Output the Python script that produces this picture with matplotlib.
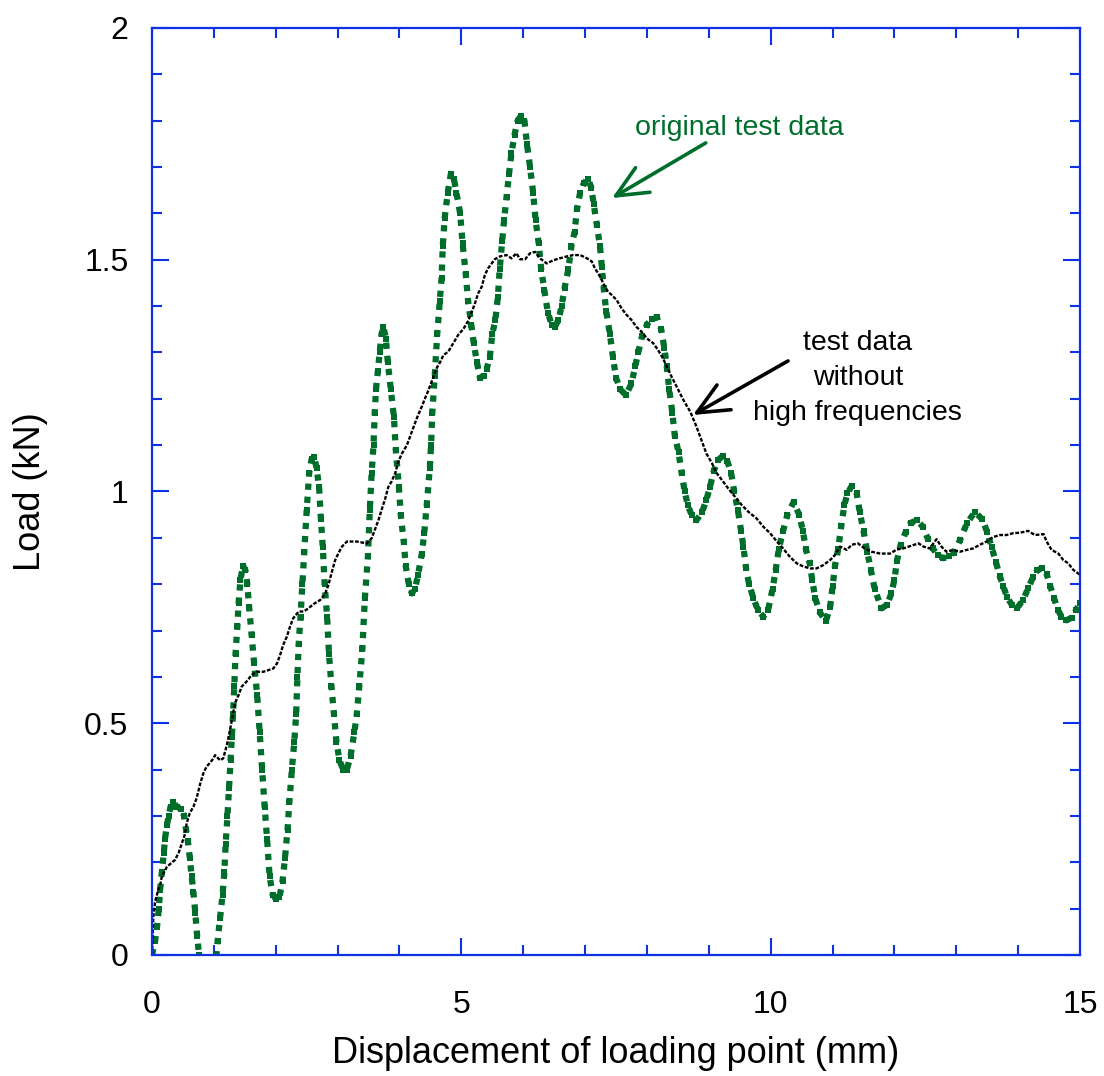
import numpy as np
import matplotlib
matplotlib.use("Agg")
import matplotlib.pyplot as plt
from matplotlib.ticker import MultipleLocator

# original test data (green)
raw_x = [0.00, 0.05, 0.08, 0.11, 0.13, 0.16, 0.19, 0.21, 0.24, 0.27, 0.30, 0.34,
         0.40, 0.47, 0.52, 0.55, 0.58, 0.61, 0.64, 0.67, 0.70, 0.73, 0.76, 0.83,
         0.90, 0.97, 1.03, 1.06, 1.10, 1.14, 1.17, 1.19, 1.22, 1.245, 1.27, 1.29,
         1.31, 1.33, 1.35, 1.38, 1.40, 1.43, 1.47, 1.51, 1.54, 1.57, 1.61, 1.65,
         1.70, 1.74, 1.78, 1.82, 1.86, 1.90, 1.95, 2.01, 2.06, 2.11, 2.15, 2.19,
         2.22, 2.26, 2.30, 2.33, 2.35, 2.37, 2.40, 2.43, 2.46, 2.50, 2.54, 2.58,
         2.62, 2.66, 2.70, 2.73, 2.76, 2.79, 2.83, 2.86, 2.90, 2.94, 2.98, 3.03,
         3.09, 3.15, 3.21, 3.27, 3.31, 3.35, 3.40, 3.44, 3.49, 3.52, 3.55, 3.58,
         3.60, 3.62, 3.65, 3.68, 3.71, 3.74, 3.78, 3.81, 3.86, 3.91, 3.94, 3.99,
         4.02, 4.07, 4.10, 4.15, 4.20, 4.25, 4.30, 4.36, 4.40, 4.44, 4.49, 4.51,
         4.53, 4.57, 4.61, 4.65, 4.68, 4.70, 4.73, 4.78, 4.83, 4.88, 4.92, 4.98,
         5.02, 5.07, 5.11, 5.16, 5.20, 5.25, 5.30, 5.36, 5.41, 5.46, 5.50, 5.55,
         5.59, 5.62, 5.66, 5.69, 5.73, 5.77, 5.81, 5.86, 5.91, 5.96, 6.02, 6.06,
         6.11, 6.16, 6.20, 6.25, 6.29, 6.34, 6.40, 6.46, 6.51, 6.57, 6.62, 6.67,
         6.73, 6.78, 6.83, 6.87, 6.92, 6.98, 7.05, 7.10, 7.14, 7.19, 7.24, 7.27,
         7.30, 7.34, 7.40, 7.45, 7.50, 7.57, 7.66, 7.75, 7.81, 7.86, 7.92, 8.00,
         8.08, 8.16, 8.23, 8.28, 8.32, 8.36, 8.41, 8.45, 8.51, 8.56, 8.61, 8.66,
         8.72, 8.80, 8.89, 8.96, 9.02, 9.08, 9.15, 9.23, 9.30, 9.36, 9.41, 9.47,
         9.52, 9.56, 9.60, 9.65, 9.72, 9.79, 9.88, 9.96, 10.03, 10.08, 10.13,
         10.20, 10.27, 10.37, 10.46, 10.52, 10.57, 10.63, 10.67, 10.72, 10.79,
         10.89, 10.96, 11.00, 11.04, 11.09, 11.14, 11.19, 11.24, 11.31, 11.39,
         11.44, 11.50, 11.56, 11.62, 11.68, 11.79, 11.88, 11.95, 12.00, 12.04,
         12.10, 12.18, 12.26, 12.36, 12.46, 12.54, 12.62, 12.70, 12.79, 12.88,
         12.96, 13.06, 13.17, 13.30, 13.42, 13.50, 13.57, 13.64, 13.70, 13.76,
         13.82, 13.90, 13.98, 14.08, 14.16, 14.24, 14.31, 14.38, 14.46, 14.52,
         14.58, 14.64, 14.70, 14.78, 14.87, 14.94, 15.00]
raw_y = [0.00, 0.03, 0.06, 0.10, 0.14, 0.18, 0.22, 0.25, 0.28, 0.30, 0.32, 0.33,
         0.32, 0.315, 0.30, 0.27, 0.245, 0.21, 0.17, 0.135, 0.09, 0.04, 0.00, -0.10,
         -0.13, -0.10, -0.02, 0.03, 0.08, 0.13, 0.18, 0.24, 0.30, 0.36, 0.42, 0.47,
         0.52, 0.58, 0.65, 0.71, 0.76, 0.81, 0.84, 0.83, 0.80, 0.75, 0.69, 0.63,
         0.56, 0.48, 0.40, 0.32, 0.25, 0.17, 0.13, 0.12, 0.125, 0.16, 0.21, 0.27,
         0.33, 0.40, 0.46, 0.52, 0.60, 0.67, 0.73, 0.80, 0.87, 0.96, 1.04, 1.07,
         1.075, 1.05, 1.01, 0.94, 0.88, 0.80, 0.73, 0.65, 0.58, 0.52, 0.46, 0.42,
         0.40, 0.40, 0.43, 0.48, 0.52, 0.58, 0.66, 0.77, 0.86, 0.96, 1.04, 1.10,
         1.17, 1.22, 1.26, 1.30, 1.34, 1.355, 1.33, 1.28, 1.22, 1.16, 1.09, 1.01,
         0.95, 0.89, 0.84, 0.80, 0.78, 0.79, 0.82, 0.865, 0.91, 0.97, 1.05, 1.10,
         1.17, 1.25, 1.34, 1.41, 1.46, 1.53, 1.59, 1.645, 1.685, 1.675, 1.645, 1.60,
         1.535, 1.47, 1.41, 1.36, 1.32, 1.28, 1.245, 1.25, 1.265, 1.29, 1.34, 1.37,
         1.42, 1.48, 1.54, 1.585, 1.635, 1.685, 1.73, 1.77, 1.80, 1.81, 1.80, 1.75,
         1.70, 1.645, 1.585, 1.535, 1.48, 1.435, 1.385, 1.36, 1.355, 1.37, 1.40, 1.44,
         1.48, 1.53, 1.56, 1.61, 1.645, 1.665, 1.675, 1.655, 1.62, 1.575, 1.53, 1.485,
         1.44, 1.39, 1.34, 1.29, 1.245, 1.22, 1.208, 1.233, 1.27, 1.30, 1.335, 1.36,
         1.373, 1.376, 1.35, 1.31, 1.27, 1.22, 1.17, 1.12, 1.085, 1.04, 1.00, 0.97,
         0.95, 0.938, 0.955, 0.982, 1.01, 1.045, 1.068, 1.077, 1.065, 1.04, 1.00, 0.96,
         0.915, 0.88, 0.835, 0.80, 0.77, 0.745, 0.73, 0.745, 0.79, 0.83, 0.875,
         0.915, 0.95, 0.977, 0.95, 0.915, 0.875, 0.845, 0.81, 0.77, 0.74,
         0.72, 0.75, 0.795, 0.84, 0.875, 0.925, 0.97, 0.996, 1.012, 0.996,
         0.955, 0.915, 0.87, 0.83, 0.79, 0.748, 0.755, 0.78, 0.81, 0.85,
         0.885, 0.912, 0.932, 0.938, 0.924, 0.898, 0.877, 0.862, 0.856, 0.86,
         0.868, 0.895, 0.931, 0.956, 0.94, 0.912, 0.88, 0.848, 0.818, 0.795,
         0.772, 0.755, 0.748, 0.766, 0.791, 0.815, 0.83, 0.834, 0.822, 0.795,
         0.77, 0.745, 0.73, 0.722, 0.728, 0.745, 0.76]

# test data without high frequencies (black)
filt_x = [0.00, 0.02, 0.05, 0.10, 0.13, 0.16, 0.24, 0.37, 0.43, 0.48, 0.53, 0.56,
          0.61, 0.67, 0.72, 0.78, 0.83, 0.88, 0.97, 1.02, 1.10, 1.15, 1.21, 1.26,
          1.30, 1.34, 1.40, 1.45, 1.53, 1.61, 1.69, 1.80, 1.96, 2.02, 2.07, 2.12,
          2.18, 2.23, 2.28, 2.37, 2.45, 2.53, 2.61, 2.72, 2.80, 2.85, 2.90, 2.96,
          3.01, 3.07, 3.15, 3.31, 3.47, 3.55, 3.60, 3.66, 3.71, 3.77, 3.82, 3.87,
          3.93, 3.98, 4.04, 4.12, 4.17, 4.22, 4.28, 4.36, 4.41, 4.47, 4.52, 4.60,
          4.66, 4.71, 4.79, 4.87, 4.95, 5.03, 5.11, 5.17, 5.22, 5.27, 5.33, 5.38,
          5.43, 5.49, 5.54, 5.62, 5.73, 5.81, 5.89, 5.95, 6.03, 6.11, 6.19, 6.27,
          6.38, 6.49, 6.59, 6.70, 6.81, 6.92, 7.03, 7.11, 7.16, 7.21, 7.27, 7.32,
          7.37, 7.43, 7.51, 7.59, 7.67, 7.75, 7.83, 7.91, 8.00, 8.10, 8.18, 8.26,
          8.37, 8.48, 8.59, 8.70, 8.80, 8.88, 8.96, 9.05, 9.13, 9.21, 9.31, 9.42,
          9.53, 9.64, 9.77, 9.88, 9.99, 10.10, 10.20, 10.31, 10.42, 10.53, 10.64,
          10.74, 10.85, 10.96, 11.04, 11.12, 11.23, 11.31, 11.41, 11.52, 11.63,
          11.77, 11.93, 12.04, 12.14, 12.25, 12.39, 12.47, 12.57, 12.68, 12.76,
          12.84, 12.95, 13.06, 13.17, 13.27, 13.38, 13.49, 13.60, 13.71, 13.81,
          13.92, 14.03, 14.16, 14.27, 14.41, 14.46, 14.54, 14.65, 14.73, 14.81,
          14.89, 15.00]
filt_y = [0.00, 0.08, 0.115, 0.14, 0.15, 0.17, 0.19, 0.205, 0.22, 0.24, 0.26, 0.284,
          0.306, 0.32, 0.338, 0.37, 0.392, 0.406, 0.42, 0.431, 0.42, 0.424, 0.453, 0.485,
          0.514, 0.543, 0.561, 0.579, 0.59, 0.604, 0.611, 0.611, 0.618, 0.629, 0.647, 0.669,
          0.687, 0.708, 0.726, 0.741, 0.741, 0.748, 0.757, 0.766, 0.78, 0.798, 0.823, 0.852,
          0.866, 0.881, 0.892, 0.892, 0.888, 0.899, 0.917, 0.938, 0.96, 0.985, 1.01, 1.021,
          1.039, 1.064, 1.082, 1.10, 1.118, 1.136, 1.158, 1.183, 1.20, 1.219, 1.237, 1.266,
          1.28, 1.294, 1.302, 1.32, 1.338, 1.35, 1.368, 1.388, 1.406, 1.427, 1.442, 1.467,
          1.481, 1.492, 1.501, 1.507, 1.51, 1.503, 1.514, 1.501, 1.501, 1.514, 1.517, 1.503,
          1.492, 1.499, 1.503, 1.507, 1.51, 1.51, 1.503, 1.496, 1.481, 1.471, 1.456, 1.442,
          1.431, 1.424, 1.413, 1.395, 1.381, 1.37, 1.355, 1.345, 1.33, 1.32, 1.305, 1.287,
          1.255, 1.226, 1.197, 1.172, 1.14, 1.111, 1.082, 1.061, 1.039, 1.025, 1.007, 0.989,
          0.971, 0.956, 0.942, 0.924, 0.91, 0.892, 0.877, 0.859, 0.845, 0.838, 0.834,
          0.834, 0.841, 0.852, 0.863, 0.881, 0.874, 0.885, 0.888, 0.877, 0.87,
          0.866, 0.866, 0.875, 0.877, 0.882, 0.888, 0.881, 0.877, 0.897, 0.881,
          0.87, 0.874, 0.87, 0.874, 0.877, 0.885, 0.892, 0.902, 0.906, 0.906,
          0.91, 0.911, 0.915, 0.906, 0.908, 0.892, 0.874, 0.866, 0.852, 0.845,
          0.831, 0.82]

GREEN = "#006e2b"
BLUE = "#1030e6"

plt.rcParams["font.family"] = ["Liberation Sans", "DejaVu Sans"]

fig = plt.figure(figsize=(11.04, 10.76), dpi=100)
ax = fig.add_axes([0.1377, 0.1125, 0.8406, 0.8615])

ax.plot(raw_x, raw_y, color=GREEN, lw=4.5, ls=(0, (1, 1.1)),
        dash_capstyle="butt")
ax.plot(raw_x, raw_y, "s", color=GREEN, ms=4.4, mew=0)
ax.plot(filt_x, filt_y, color="black", lw=1.7, ls=(0, (1.6, 0.7)))

ax.set_xlim(0, 15)
ax.set_ylim(0, 2)
ax.xaxis.set_minor_locator(MultipleLocator(1))
ax.yaxis.set_minor_locator(MultipleLocator(0.1))
ax.set_xticks([0, 5, 10, 15], ["0", "5", "10", "15"])
ax.set_yticks([0, 0.5, 1, 1.5, 2], ["0", "0.5", "1", "1.5", "2"])

for s in ax.spines.values():
    s.set_color(BLUE)
    s.set_linewidth(1.6)
ax.tick_params(which="both", direction="in", top=True, right=True,
               color=BLUE, width=1.5, labelsize=23, labelcolor="black")
ax.tick_params(which="major", length=12)
ax.tick_params(which="minor", length=7)
ax.tick_params(axis="x", pad=25)
ax.tick_params(axis="y", pad=17)

ax.set_xlabel("Displacement of loading point (mm)", fontsize=26, labelpad=12)
ax.set_ylabel("Load (kN)", fontsize=26, labelpad=26)

arrow = "->,head_length=1.1,head_width=0.5"
ax.text(9.5, 1.785, "original test data", color=GREEN, fontsize=20.5,
        ha="center", va="center")
ax.annotate("", xy=(7.435, 1.633), xytext=(8.95, 1.752),
            arrowprops=dict(arrowstyle=arrow, color=GREEN, lw=2.6,
                            mutation_scale=20.5, shrinkA=0, shrinkB=0))
ax.text(11.41, 1.245, "test data\nwithout\nhigh frequencies", color="black",
        fontsize=20.5, ha="center", va="center", linespacing=1.45)
ax.annotate("", xy=(8.744, 1.165), xytext=(10.28, 1.2816),
            arrowprops=dict(arrowstyle=arrow, color="black", lw=2.6,
                            mutation_scale=20.5, shrinkA=0, shrinkB=0))

fig.savefig("out.png", dpi=100)
